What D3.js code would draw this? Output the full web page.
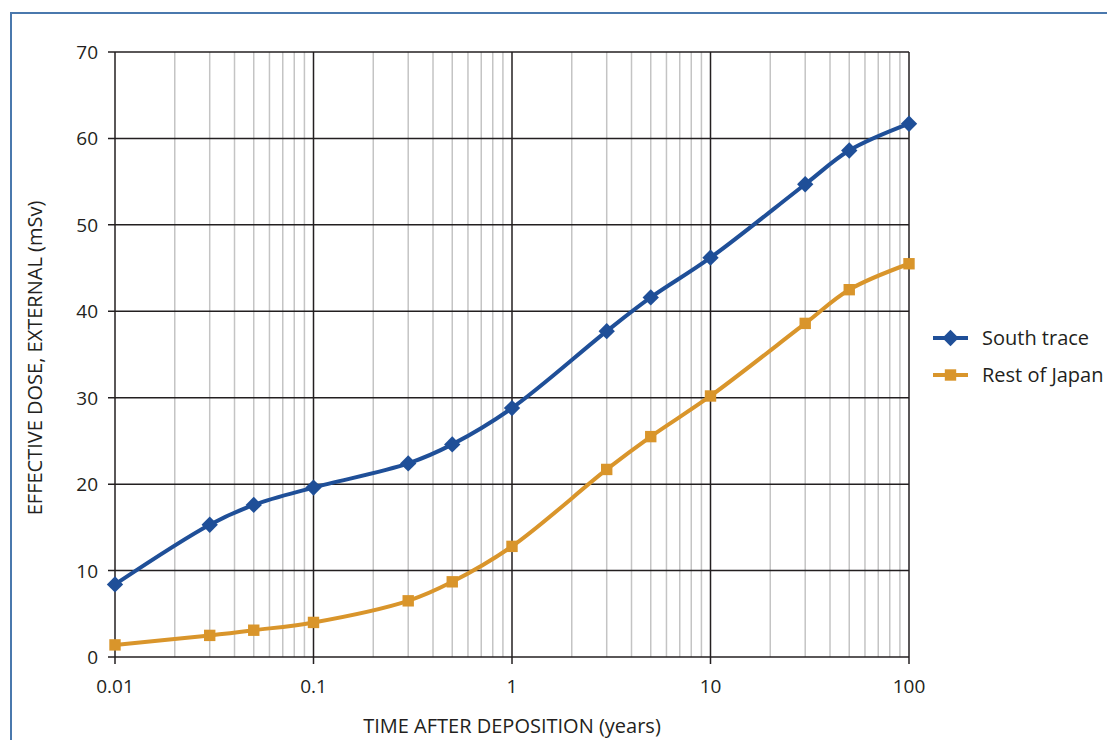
<!DOCTYPE html>
<html><head><meta charset="utf-8">
<script src="https://cdn.jsdelivr.net/npm/d3@7"></script>
<style>body{margin:0;background:#fff}svg{display:block}text{font-family:"Open Sans",sans-serif;fill:#231f20}</style>
</head><body><svg id="c" width="1107" height="740"></svg>
<script>
const years = [0.01,0.03,0.05,0.1,0.3,0.5,1,3,5,10,30,50,100];
const southTrace = [8.4,15.3,17.6,19.6,22.4,24.6,28.8,37.7,41.6,46.2,54.7,58.6,61.7];
const restOfJapan = [1.4,2.5,3.1,4.0,6.5,8.7,12.8,21.7,25.5,30.2,38.6,42.5,45.5];
const xTicks = [0.01,0.1,1,10,100];
const xTickLabels = ["0.01","0.1","1","10","100"];
const yTicks = [0,10,20,30,40,50,60,70];
const seriesNames = ["South trace","Rest of Japan"];
const colors = ["#1f4f98","#d9952b"];

const svg = d3.select("#c");
const L=115,R=909,T=52,B=657;
const x = d3.scaleLog().domain([0.01,100]).range([L,R]);
const y = d3.scaleLinear().domain([0,70]).range([B,T]);

svg.append("path").attr("d",`M11,760 L11,13 L1130,13`).attr("fill","none").attr("stroke","#4a78ad").attr("stroke-width",2);

const minor=[];
for(let e=-2;e<2;e++){for(let m=2;m<=9;m++){minor.push(m*Math.pow(10,e));}}
svg.append("g").selectAll("line").data(minor).join("line")
 .attr("x1",d=>x(d)).attr("x2",d=>x(d)).attr("y1",T).attr("y2",B)
 .attr("stroke","#c4c4c4").attr("stroke-width",1.5);
svg.append("g").selectAll("line").data(xTicks).join("line")
 .attr("x1",d=>x(d)).attr("x2",d=>x(d)).attr("y1",T).attr("y2",B+7)
 .attr("stroke","#231f20").attr("stroke-width",1.5);
svg.append("g").selectAll("line").data(yTicks).join("line")
 .attr("x1",L-7).attr("x2",R).attr("y1",d=>y(d)).attr("y2",d=>y(d))
 .attr("stroke","#231f20").attr("stroke-width",1.5);

svg.append("g").selectAll("text").data(yTicks).join("text")
 .attr("x",98).attr("y",d=>y(d)+7).attr("text-anchor","end").attr("font-size",19).text(d=>d);
svg.append("g").selectAll("text").data(xTicks).join("text")
 .attr("x",d=>x(d)).attr("y",693).attr("text-anchor","middle").attr("font-size",19).text((d,i)=>xTickLabels[i]);
svg.append("text").attr("x",512).attr("y",733).attr("text-anchor","middle").attr("font-size",20).text("TIME AFTER DEPOSITION (years)");
svg.append("text").attr("transform","translate(42,358) rotate(-90)").attr("text-anchor","middle").attr("font-size",20).text("EFFECTIVE DOSE, EXTERNAL (mSv)");

const line = d3.line().x((d,i)=>x(years[i])).y(d=>y(d)).curve(d3.curveCatmullRom.alpha(0.5));
const series=[southTrace,restOfJapan];
series.forEach((s,k)=>{
  svg.append("path").attr("d",line(s)).attr("fill","none").attr("stroke",colors[k]).attr("stroke-width",4);
  const sym = d3.symbol().type(k===0?d3.symbolDiamond2:d3.symbolSquare).size(k===0?170:130);
  svg.append("g").selectAll("path").data(s).join("path")
   .attr("transform",(d,i)=>`translate(${x(years[i])},${y(d)})`)
   .attr("d",sym).attr("fill",colors[k]);
});

const lg = svg.append("g");
seriesNames.forEach((n,k)=>{
  const yy = 338 + k*37;
  lg.append("line").attr("x1",933).attr("x2",968).attr("y1",yy).attr("y2",yy).attr("stroke",colors[k]).attr("stroke-width",4);
  const sym = d3.symbol().type(k===0?d3.symbolDiamond2:d3.symbolSquare).size(k===0?170:130);
  lg.append("path").attr("transform",`translate(950.5,${yy})`).attr("d",sym).attr("fill",colors[k]);
  lg.append("text").attr("x",982).attr("y",yy+7).attr("font-size",20).text(n);
});
</script></body></html>
